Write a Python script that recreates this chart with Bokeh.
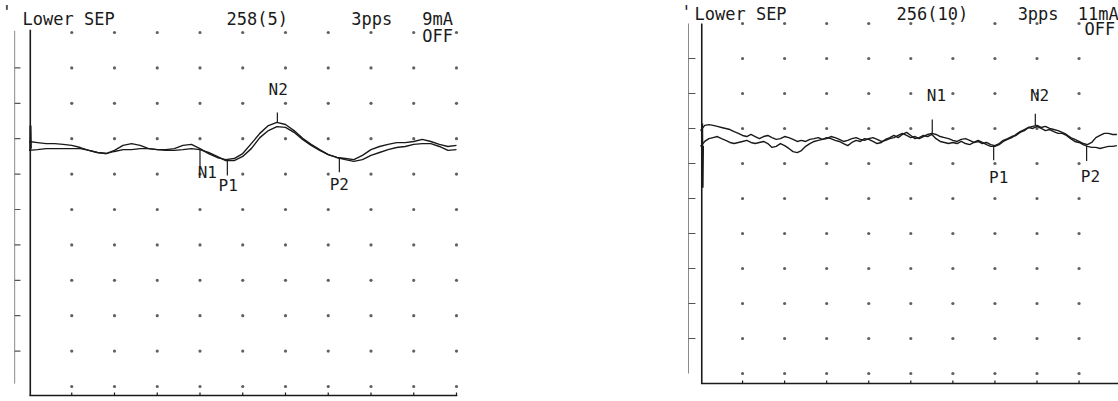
import numpy as np
from bokeh.plotting import figure
from bokeh.models import Range1d, ColumnDataSource, Spacer
from bokeh.layouts import row
from bokeh.core.properties import value
from bokeh.embed import file_html
from bokeh.resources import INLINE

# ---------------- data ----------------
left_header = ["'", "Lower SEP", "258(5)", "3pps", "9mA", "OFF"]
right_header = ["'", "Lower SEP", "256(10)", "3pps", "11mA", "OFF"]

grid_cols_ms = [10, 20, 30, 40, 50, 60, 70, 80, 90, 100]
grid_rows_div = [0, 1, 2, 3, 4, 5, 6, 7, 8, 9, 10]
scale_ticks_div = [1, 2, 3, 4, 5, 6, 7, 8, 9]

peak_names = ["N1", "P1", "N2", "P2"]
left_latency = [40.0, 46.4, 58.1, 72.6]
right_latency = [55.1, 69.7, 79.6, 91.8]

left_t = [0, 2, 4, 6, 8, 10, 12, 14, 16, 18, 20, 22, 24, 26, 28, 30, 32, 34, 36, 38,
          40, 42, 44, 46, 48, 50, 52, 54, 56, 58, 60, 62, 64, 66, 68, 70, 72, 74, 76, 78,
          80, 82, 84, 86, 88, 90, 92, 94, 96, 98, 100]
left_a = [6.92, 6.89, 6.86, 6.86, 6.84, 6.81, 6.75, 6.67, 6.61, 6.58,
          6.67, 6.81, 6.86, 6.81, 6.72, 6.69, 6.69, 6.72, 6.81, 6.84,
          6.72, 6.58, 6.47, 6.41, 6.44, 6.58, 6.86, 7.15, 7.37, 7.46,
          7.40, 7.23, 7.01, 6.84, 6.69, 6.55, 6.47, 6.44, 6.41, 6.53,
          6.69, 6.78, 6.84, 6.89, 6.89, 6.92, 6.98, 6.92, 6.84, 6.78,
          6.81]
left_b = [6.67, 6.69, 6.72, 6.72, 6.72, 6.72, 6.72, 6.67, 6.61, 6.58,
          6.64, 6.69, 6.69, 6.72, 6.72, 6.69, 6.67, 6.67, 6.69, 6.72,
          6.69, 6.61, 6.50, 6.38, 6.38, 6.50, 6.72, 7.03, 7.23, 7.34,
          7.32, 7.18, 6.98, 6.81, 6.67, 6.55, 6.47, 6.41, 6.36, 6.41,
          6.53, 6.61, 6.69, 6.75, 6.78, 6.84, 6.86, 6.86, 6.78, 6.67,
          6.69]
left_artifact_t = [0.3, 0.35, 0.45]
left_artifact_y = [6.67, 7.37, 6.72]

right_t = [0, 1, 2, 3, 4, 5, 6, 7, 8, 9, 10, 11, 12, 13, 14, 15, 16, 17, 18, 19,
           20, 21, 22, 23, 24, 25, 26, 27, 28, 29, 30, 31, 32, 33, 34, 35, 36, 37, 38, 39,
           40, 41, 42, 43, 44, 45, 46, 47, 48, 49, 50, 51, 52, 53, 54, 55, 56, 57, 58, 59,
           60, 61, 62, 63, 64, 65, 66, 67, 68, 69, 70, 71, 72, 73, 74, 75, 76, 77, 78, 79,
           80, 81, 82, 83, 84, 85, 86, 87, 88, 89, 90, 91, 92, 93, 94, 95, 96, 97, 98, 99]
right_c = [6.94, 7.09, 7.11, 7.09, 7.06, 7.03, 7.00, 6.97, 6.91, 6.86,
           6.80, 6.77, 6.83, 6.77, 6.71, 6.77, 6.80, 6.74, 6.69, 6.71,
           6.77, 6.74, 6.69, 6.63, 6.66, 6.63, 6.69, 6.71, 6.74, 6.69,
           6.71, 6.77, 6.74, 6.69, 6.63, 6.66, 6.71, 6.74, 6.69, 6.66,
           6.71, 6.74, 6.69, 6.63, 6.66, 6.71, 6.74, 6.80, 6.86, 6.80,
           6.74, 6.77, 6.71, 6.77, 6.83, 6.86, 6.83, 6.77, 6.74, 6.71,
           6.66, 6.63, 6.69, 6.71, 6.66, 6.60, 6.63, 6.57, 6.60, 6.54,
           6.51, 6.57, 6.66, 6.71, 6.77, 6.80, 6.89, 6.94, 7.03, 7.06,
           7.09, 7.03, 7.06, 7.00, 6.97, 6.94, 6.89, 6.83, 6.74, 6.69,
           6.63, 6.57, 6.54, 6.60, 6.74, 6.80, 6.86, 6.86, 6.83, 6.83]
right_d = [6.49, 6.63, 6.71, 6.74, 6.77, 6.71, 6.66, 6.60, 6.57, 6.60,
           6.63, 6.66, 6.60, 6.57, 6.60, 6.63, 6.57, 6.46, 6.49, 6.57,
           6.51, 6.43, 6.34, 6.31, 6.37, 6.49, 6.57, 6.63, 6.66, 6.69,
           6.74, 6.71, 6.66, 6.63, 6.57, 6.51, 6.60, 6.66, 6.63, 6.71,
           6.69, 6.63, 6.57, 6.60, 6.69, 6.74, 6.80, 6.74, 6.83, 6.89,
           6.80, 6.71, 6.74, 6.80, 6.77, 6.83, 6.71, 6.63, 6.60, 6.57,
           6.60, 6.57, 6.63, 6.57, 6.54, 6.60, 6.66, 6.60, 6.54, 6.49,
           6.49, 6.54, 6.63, 6.69, 6.74, 6.83, 6.91, 6.97, 7.03, 7.00,
           7.06, 7.00, 6.94, 6.97, 6.91, 6.86, 6.86, 6.80, 6.71, 6.63,
           6.60, 6.54, 6.49, 6.46, 6.46, 6.43, 6.46, 6.49, 6.49, 6.51]
right_artifact_t = [0.4, 0.5, 0.6]
right_artifact_y = [7.14, 5.31, 6.50]

# ---------------- styling / layout ----------------
FONT = value("DejaVu Sans Mono")
INK = "#1a1a1a"


def make_panel(width, height, xr, yr, t, traces, art_t, art_y, header, header_x, header_y,
               latency, dirs, tick_len, lab_dx, lab_dy, axis_x, axis_top, axis_bottom,
               axis_right, px_per_div, scale_x0, scale_x1, scale_top, scale_bottom):
    p = figure(width=width, height=height, x_range=Range1d(*xr), y_range=Range1d(*yr),
               output_backend="svg", toolbar_location=None)
    p.axis.visible = False
    p.grid.visible = False
    p.outline_line_color = None
    p.min_border = 0
    p.min_border_left = p.min_border_right = p.min_border_top = p.min_border_bottom = 0
    p.background_fill_color = "white"
    p.border_fill_color = "white"

    # dot grid
    gx = [c for c in grid_cols_ms for r in grid_rows_div]
    gy = [r for c in grid_cols_ms for r in grid_rows_div]
    p.scatter(gx, gy, size=3.2, marker="circle", fill_color="#444444", line_color=None, alpha=0.85)

    # axes
    p.segment([axis_x], [axis_bottom], [axis_x], [axis_top], line_color=INK, line_width=1.6)
    p.segment([axis_x - 0.2], [axis_bottom], [axis_right], [axis_bottom],
              line_color=INK, line_width=1.6)
    tk = 3.0 / px_per_div
    p.segment(grid_cols_ms, [axis_bottom] * len(grid_cols_ms), grid_cols_ms,
              [axis_bottom + tk] * len(grid_cols_ms), line_color=INK, line_width=1.2)

    # scale bar on the left
    p.segment([scale_x0], [scale_bottom], [scale_x0], [scale_top], line_color="#8a8a8a", line_width=1)
    p.segment([scale_x0] * len(scale_ticks_div), scale_ticks_div,
              [scale_x1] * len(scale_ticks_div), scale_ticks_div, line_color="#555", line_width=1.2)

    # traces
    for tr in traces:
        p.line(t, tr, line_color=INK, line_width=1.4, line_join="round")
    p.line(art_t, art_y, line_color=INK, line_width=2.0)

    # peak markers
    arr = np.array(traces)
    upper = arr.max(axis=0)
    lower = arr.min(axis=0)
    base = [np.interp(l, t, upper) if d > 0 else np.interp(l, t, lower) for l, d in zip(latency, dirs)]
    ends = [b + d * L for b, d, L in zip(base, dirs, tick_len)]
    p.segment(latency, base, latency, ends, line_color=INK, line_width=1.2)
    src = ColumnDataSource(dict(x=[l + dx for l, dx in zip(latency, lab_dx)],
                                y=[e + dy for e, dy in zip(ends, lab_dy)],
                                text=peak_names))
    p.text(x="x", y="y", text="text", source=src, text_font=FONT, text_font_size="16px",
           text_align="center", text_baseline="middle", text_color=INK)

    # header texts
    p.text(x=header_x, y=header_y, text=header, text_font=FONT, text_font_size="17px",
           text_align="left", text_baseline="alphabetic", text_color=INK)
    return p


# left panel: px = 28.5 + 4.275*t ; py = 386 - 35.4*k  (figure at page x 0..478, y 0..401)
left = make_panel(
    width=478, height=401, xr=(-6.667, 105.15), yr=(-0.424, 10.904),
    t=left_t, traces=[left_a, left_b], art_t=left_artifact_t, art_y=left_artifact_y,
    header=left_header,
    header_x=[-6.4, -1.52, 46.2, 75.4, 92.0, 92.0],
    header_y=[10.57, 10.37, 10.37, 10.37, 10.37, 9.89],
    latency=left_latency, dirs=[-1, -1, 1, -1], tick_len=[0.48, 0.42, 0.28, 0.40],
    lab_dx=[1.7, 0.2, 0.2, 0.0], lab_dy=[-0.16, -0.28, 0.66, -0.34],
    axis_x=0.3, axis_top=10.08, axis_bottom=-0.254, axis_right=100.2, px_per_div=35.4,
    scale_x0=-3.35, scale_x1=-2.0, scale_top=10.05, scale_bottom=0.08)

# right panel: px = 700 + 4.206*t ; py = 373 - 35*k  (figure at page x 680..1118)
right = make_panel(
    width=438, height=401, xr=(-4.755, 99.38), yr=(-0.8, 10.657),
    t=right_t, traces=[right_c, right_d], art_t=right_artifact_t, art_y=right_artifact_y,
    header=right_header,
    header_x=[-4.6, -1.43, 46.6, 75.4, 89.7, 91.3],
    header_y=[10.34, 10.28, 10.28, 10.28, 10.28, 9.85],
    latency=right_latency, dirs=[1, -1, 1, -1], tick_len=[0.40, 0.40, 0.34, 0.43],
    lab_dx=[1.0, 1.2, 1.0, 0.9], lab_dy=[0.68, -0.49, 0.52, -0.44],
    axis_x=0.3, axis_top=10.0, axis_bottom=-0.286, axis_right=99.4, px_per_div=35.0,
    scale_x0=-2.85, scale_x1=-1.2, scale_top=10.0, scale_bottom=0.0)

layout = row(left, Spacer(width=202, height=401), right)
open("out.html", "w").write(file_html(layout, INLINE))
